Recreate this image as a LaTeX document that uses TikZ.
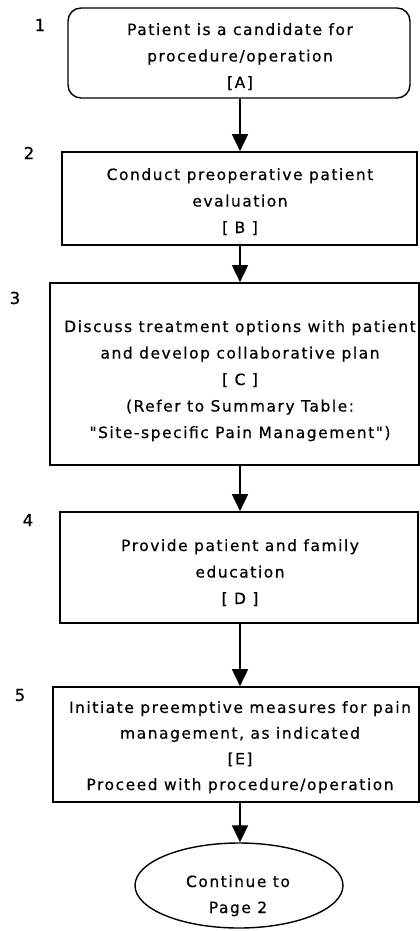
\documentclass[tikz,border=0pt]{standalone}
\usepackage{fontspec}
\newfontfamily\boxfont[LetterSpace=9.8,FakeBold=0.5]{DejaVu Sans}
\newfontfamily\numfont[FakeBold=0.8]{DejaVu Sans}
\usetikzlibrary{arrows.meta,shapes.geometric}
\begin{document}
\begin{tikzpicture}[x=1pt,y=-1pt,
  box/.style={draw, line width=1.7pt, inner sep=0pt},
  txt/.style={align=center, inner sep=0pt, anchor=base, font=\boxfont\fontsize{15.5}{26.5}\selectfont},
  num/.style={inner sep=0pt, font=\numfont\fontsize{16.5}{18}\selectfont},
  arr/.style={line width=1.8pt, -{Triangle[width=16pt,length=17pt]}}]
\useasboundingbox (0,0) rectangle (420,931);
\coordinate (ax) at (240,0);
% boxes
\node[box, rounded corners=13pt, line width=1.4pt, minimum width=342pt, minimum height=90pt] (b1) at (239,53) {};
\node[box, minimum width=355pt, minimum height=93pt] (b2) at (239.5,198.5) {};
\node[box, minimum width=369pt, minimum height=182pt] (b3) at (234.5,374) {};
\node[box, minimum width=358pt, minimum height=111pt] (b4) at (239,567.5) {};
\node[box, minimum width=366pt, minimum height=115pt] (b5) at (236,744.5) {};
\node[draw, ellipse, line width=1.4pt, inner sep=0pt, minimum width=208pt, minimum height=85pt] (e6) at (239,885.5) {};
% texts (anchored at the baseline of the last line)
\node[txt] (t1) at (240,88) {Patient is a candidate for\\procedure/operation\\{}[A]};
\node[txt] (t2) at (240,233) {Conduct preoperative patient\\evaluation\\{}[ B ]};
\node[txt] (t3) at (240,438) {Discuss treatment options with patient\\and develop collaborative plan\\{}[ C ]\\(Refer to Summary Table:\\"Site-specific Pain Management")};
\node[txt] (t4) at (240,604) {Provide patient and family\\education\\{}[ D ]};
\node[txt, font=\boxfont\fontsize{15.5}{25.7}\selectfont] (t5) at (240,790) {Initiate preemptive measures for pain\\management, as indicated\\{}[E]\\Proceed with procedure/operation};
\node[txt, font=\boxfont\fontsize{15.5}{26}\selectfont] (t6) at (238,913) {Continue to\\Page 2};
% numbers
\node[num] (n1) at (40,25) {1};
\node[num] (n2) at (29,153) {2};
\node[num] (n3) at (15,298) {3};
\node[num] (n4) at (28,520) {4};
\node[num] (n5) at (20,695) {5};
% connectors
\draw[arr] (b1.south -| ax) -- (b2.north -| ax);
\draw[arr] (b2.south -| ax) -- (b3.north -| ax);
\draw[arr] (b3.south -| ax) -- (b4.north -| ax);
\draw[arr] (b4.south -| ax) -- (b5.north -| ax);
\draw[arr] (b5.south -| ax) -- (e6.north -| ax);
\end{tikzpicture}
\end{document}
